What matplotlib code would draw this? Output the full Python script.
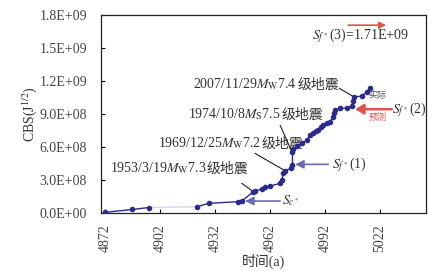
import matplotlib
matplotlib.use("Agg")
import matplotlib.pyplot as plt
from matplotlib.collections import LineCollection
import numpy as np

plt.rcParams['font.family'] = ['Liberation Serif', 'Noto Sans CJK SC', 'DejaVu Sans']
plt.rcParams['mathtext.fontset'] = 'stix'

# ---- data ----
years = [4872.0, 4886.9, 4895.8, 4922.0, 4928.7, 4944.7, 4946.6, 4952.9, 4953.8,
         4957.5, 4959.3, 4962.0, 4967.5, 4968.4, 4969.3, 4970.2, 4973.5, 4973.9,
         4973.9, 4974.7, 4976.7, 4979.3, 4982.0, 4983.8, 4985.6, 4987.1, 4988.4,
         4989.8, 4991.1, 4993.1, 4994.7, 4996.5, 4996.9, 4997.5, 5000.2, 5003.9,
         5006.6, 5007.5, 5007.8, 5012.0, 5014.8, 5016.6]
cbs = [0.06e8, 0.32e8, 0.50e8, 0.57e8, 0.88e8, 1.03e8, 1.09e8, 1.94e8, 2.00e8,
       2.18e8, 2.34e8, 2.45e8, 2.70e8, 3.00e8, 3.61e8, 3.85e8, 4.06e8, 4.36e8,
       5.57e8, 5.79e8, 6.09e8, 6.34e8, 6.64e8, 7.09e8, 7.30e8, 7.45e8, 7.55e8,
       7.82e8, 8.00e8, 8.18e8, 8.30e8, 8.75e8, 9.09e8, 9.36e8, 9.52e8, 9.57e8,
       9.73e8, 10.21e8, 10.57e8, 10.64e8, 11.03e8, 11.34e8]
faded_segment = 2  # segment from point 2 to point 3 appears faded in the reference

x_ticks = [4872, 4902, 4932, 4962, 4992, 5022]
y_ticks = [0, 3e8, 6e8, 9e8, 1.2e9, 1.5e9, 1.8e9]
y_tick_labels = ['0.0E+00', '3.0E+08', '6.0E+08', '9.0E+08', '1.2E+09', '1.5E+09', '1.8E+09']

# thresholds
sc_level = 1.09e8
sf1_level = 4.43e8
sf2_level = 9.45e8
sf3_level = 1.71e9

# earthquake annotations: (label, index of data point)
quakes = [
    (r'1953/3/19$M_{\rm W}$7.3', 7),
    (r'1969/12/25$M_{\rm W}$7.2', 15),
    (r'1974/10/8$M_{\rm S}$7.5', 18),
    (r'2007/11/29$M_{\rm W}$7.4', 38),
]
quake_suffix = '级地震'
quake_text_pos = [(4874.7, 3.75e8), (4900.9, 5.97e8), (4917.3, 8.61e8), (4920.0, 11.39e8)]
quake_leader_start = [(4946.6, 2.70e8), (4953.8, 5.43e8), (4967.5, 8.00e8), (4999.7, 11.36e8)]

line_color = '#2b2b8c'
arrow_blue = '#6b6bb5'
arrow_red = '#e0534c'
text_color = '#333333'

fig = plt.figure(figsize=(4.38, 2.71), dpi=100)
ax = fig.add_axes([0.2306, 0.214, 0.7409, 0.7295])

pts = np.column_stack([years, cbs])
segs = np.stack([pts[:-1], pts[1:]], axis=1)
cols = [line_color] * len(segs)
cols[faded_segment] = '#d6d6ea'
ax.add_collection(LineCollection(segs, colors=cols, linewidths=1.0, zorder=3))
ax.plot(years, cbs, linestyle='none', marker='o', markersize=3.0,
        color=line_color, zorder=4)

ax.set_xlim(4869.8, 5046.8)
ax.set_ylim(0, 1.8e9)
ax.set_xticks(x_ticks)
ax.set_xticklabels([str(t) for t in x_ticks], rotation=90)
ax.set_yticks(y_ticks)
ax.set_yticklabels(y_tick_labels)
ax.tick_params(direction='in', length=3, width=0.8, labelsize=10,
               labelcolor='#444444')
ax.tick_params(axis='y', pad=10)
ax.tick_params(axis='x', pad=8)
for s in ax.spines.values():
    s.set_linewidth(0.9)
    s.set_color('#222222')

ax.set_ylabel(r'CBS(J$^{1/2}$)', fontsize=10, color=text_color, labelpad=0)
ax.set_xlabel('时间(a)', fontsize=10, color=text_color, labelpad=1)

# earthquake labels and leader lines
for (lab, idx), (tx, ty), (lx, ly) in zip(quakes, quake_text_pos, quake_leader_start):
    t1 = ax.text(tx, ty, lab, fontsize=10, color=text_color, ha='left', va='baseline')
    ax.annotate(quake_suffix, xy=(1.0, 0.0), xycoords=t1, xytext=(0.5, 0),
                textcoords='offset points', fontsize=10, color=text_color,
                ha='left', va='bottom', family=['Noto Sans CJK SC'])
    ax.annotate('', xy=(years[idx], cbs[idx]), xytext=(lx, ly),
                arrowprops=dict(arrowstyle='-', color='#222222', lw=0.8,
                                shrinkA=0, shrinkB=0))

# S_c* arrow
ax.annotate('', xy=(4948.4, sc_level), xytext=(4967.5, sc_level),
            arrowprops=dict(arrowstyle='-|>,head_length=0.5,head_width=0.25',
                            color=arrow_blue, lw=1.2, shrinkA=0, shrinkB=0))
ax.text(4968.4, sc_level, r'$S_{c^*}$', fontsize=10, color=text_color,
        ha='left', va='center')

# S_f*(1)
ax.annotate('', xy=(4975.7, sf1_level), xytext=(4993.7, sf1_level),
            arrowprops=dict(arrowstyle='-|>,head_length=0.5,head_width=0.25',
                            color=arrow_blue, lw=1.2, shrinkA=0, shrinkB=0))
ax.text(4995.7, sf1_level, r'$S_{f^*}$(1)', fontsize=10, color=text_color,
        ha='left', va='center')

# S_f*(2)
ax.annotate('', xy=(5008.4, sf2_level), xytext=(5028.4, sf2_level),
            arrowprops=dict(arrowstyle='-|>,head_length=0.5,head_width=0.3',
                            color=arrow_red, lw=1.8, shrinkA=0, shrinkB=0))
ax.text(5028.6, sf2_level, r'$S_{f^*}$(2)', fontsize=10, color=text_color,
        ha='left', va='center')
ax.text(5020.4, 10.73e8, '实际', fontsize=6.5, color='#555555', ha='center', va='center',
        family=['Noto Sans CJK SC'])
ax.text(5020.4, 8.70e8, '预测', fontsize=6.5, color=arrow_red, ha='center', va='center',
        family=['Noto Sans CJK SC'])

# S_f*(3)
ax.annotate('', xy=(5025.3, sf3_level), xytext=(5004.6, sf3_level),
            arrowprops=dict(arrowstyle='-|>,head_length=0.4,head_width=0.2',
                            color=arrow_red, lw=1.2, shrinkA=0, shrinkB=0))
ax.text(4984.9, 1.618e9, r'$S_{f^*}$(3)=1.71E+09', fontsize=10, color=text_color,
        ha='left', va='center')

fig.savefig('out.png', dpi=100)
